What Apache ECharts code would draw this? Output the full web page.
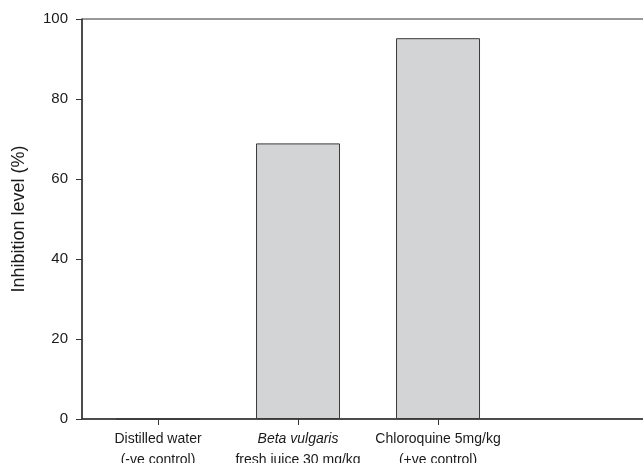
<!DOCTYPE html>
<html>
<head>
<meta charset="utf-8">
<script src="https://cdn.jsdelivr.net/npm/echarts@6/dist/echarts.min.js"></script>
<style>html,body{margin:0;padding:0;background:#fff}#c{width:643px;height:463px}</style>
</head>
<body>
<div id="c"></div>
<script>
var categories = ['Distilled water\n(-ve control)', '{it|Beta vulgaris}\nfresh juice 30 mg/kg', 'Chloroquine 5mg/kg\n(+ve control)'];
var values = [0, 68.9, 95.2];
var yTicks = [0, 20, 40, 60, 80, 100];
var yTitle = 'Inhibition level (%)';

var offset = 0.543; // category centre offset along the x value scale
var positions = categories.map(function (c, i) { return i + offset; });
var barData = values.map(function (v, i) { return [positions[i], v]; });

var chart = echarts.init(document.getElementById('c'), null, {renderer: 'canvas'});
var font = 'Liberation Sans, Arial, Helvetica, sans-serif';
chart.setOption({
  animation: false,
  backgroundColor: '#fff',
  grid: {left: 82, top: 19, bottom: 44, width: 588, outerBoundsMode: 'none', containLabel: false, show: true, borderColor: '#333', borderWidth: 1, backgroundColor: 'transparent'},
  xAxis: {
    type: 'value', min: 0, max: 4.2,
    splitLine: {show: false},
    axisLine: {show: true, lineStyle: {color: '#333', width: 1.5}},
    axisTick: {show: true, length: 6, inside: false, customValues: positions, lineStyle: {color: '#333'}},
    axisLabel: {
      customValues: positions,
      margin: 10,
      color: '#1a1a1a', fontSize: 14, fontFamily: font, lineHeight: 21,
      formatter: function (v) {
        var i = Math.round(v - offset);
        return categories[i] || '';
      },
      rich: {it: {fontStyle: 'italic', fontSize: 14, fontFamily: font, color: '#1a1a1a', lineHeight: 21}}
    }
  },
  yAxis: {
    type: 'value', min: yTicks[0], max: yTicks[yTicks.length - 1], interval: 20,
    splitLine: {show: false},
    axisLine: {show: true, lineStyle: {color: '#333', width: 1.5}},
    axisTick: {show: true, length: 6, lineStyle: {color: '#333'}},
    axisLabel: {margin: 14, color: '#1a1a1a', fontSize: 15, fontFamily: font},
    name: yTitle, nameLocation: 'middle', nameGap: 54, nameRotate: 90,
    nameTextStyle: {color: '#1a1a1a', fontSize: 18, fontFamily: font}
  },
  series: [{
    type: 'bar',
    data: barData,
    barWidth: 84,
    itemStyle: {color: '#d3d4d6', borderColor: '#3a3a3a', borderWidth: 1}
  }]
});
</script>
</body>
</html>
